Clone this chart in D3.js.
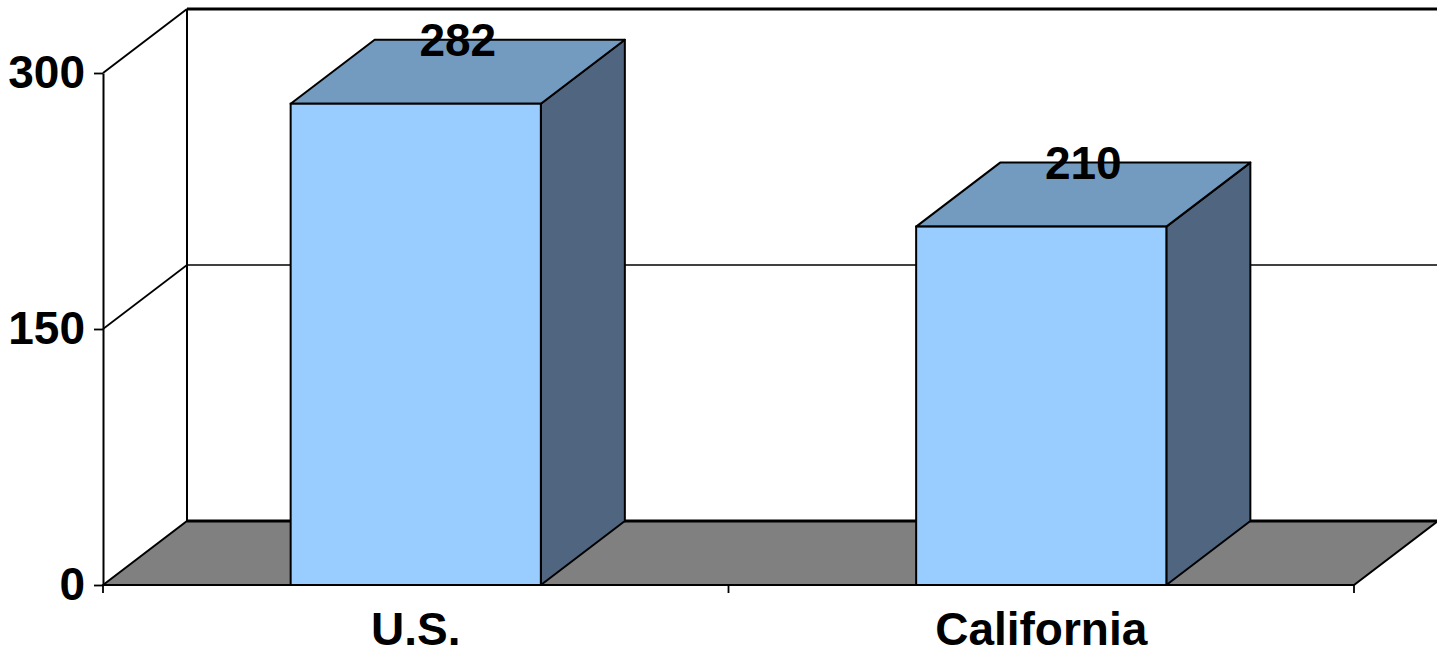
<!DOCTYPE html>
<html>
<head>
<meta charset="utf-8">
<script src="https://cdn.jsdelivr.net/npm/d3@7"></script>
<style>
  html, body { margin: 0; padding: 0; background: #ffffff; }
  svg { display: block; }
  text { font-family: "Liberation Sans", Arial, sans-serif; font-weight: bold; fill: #000; }
</style>
</head>
<body>
<svg id="chart" width="1437" height="655"></svg>
<script>
// Chart data
const categories = ["U.S.", "California"];
const values = [282, 210];
const yTicks = [0, 150, 300];

const W = 1437, H = 655;
const left = 103, right = 1354, floorY = 585, topY = 73;
// 3D depth offset (towards the back wall)
const DX = 84, DY = -64;

const svg = d3.select("#chart");

const y = d3.scaleLinear().domain([0, 300]).range([floorY, topY]);
const x = d3.scaleBand().domain(categories).range([left, right])
  .paddingInner(0.6).paddingOuter(0.3);

const line = (x1, y1, x2, y2, w) => svg.append("line")
  .attr("x1", x1).attr("y1", y1).attr("x2", x2).attr("y2", y2)
  .attr("stroke", "#000").attr("stroke-width", w);

// Back wall: left edge and top edge
line(left + DX, y(300) + DY, left + DX, y(0) + DY, 2);
line(left + DX, y(300) + DY, right + DX, y(300) + DY, 3);

// Gridlines: on the side wall (diagonal) and across the back wall
yTicks.filter(t => t > 0 && t < 300).forEach(t => {
  line(left, y(t), left + DX, y(t) + DY, 1.6);
  line(left + DX, y(t) + DY, right + DX, y(t) + DY, 1.6);
});
// top of the side wall
line(left, y(300), left + DX, y(300) + DY, 2);

// Floor
svg.append("polygon")
  .attr("points", [[left, y(0)], [left + DX, y(0) + DY], [right + DX, y(0) + DY], [right, y(0)]].join(" "))
  .attr("fill", "#808080").attr("stroke", "#000").attr("stroke-width", 2);
line(left + DX, y(0) + DY, right + DX, y(0) + DY, 3);

// Front value axis
const yAxis = svg.append("g")
  .attr("transform", `translate(${left},0)`)
  .call(d3.axisLeft(y).tickValues(yTicks).tickFormat(d3.format("d"))
    .tickSizeInner(9).tickSizeOuter(0).tickPadding(9));
yAxis.select(".domain").attr("stroke", "#000").attr("stroke-width", 2);
yAxis.selectAll(".tick line").attr("stroke", "#000").attr("stroke-width", 1.8);
yAxis.selectAll(".tick text")
  .attr("font-size", 46).attr("font-family", "Liberation Sans, Arial, sans-serif")
  .attr("font-weight", "bold").attr("fill", "#000");

// Category axis line with boundary ticks
line(left, y(0), right, y(0), 2);
const boundaries = [left, ...categories.slice(1).map(c => x(c) - x.step() * x.paddingInner() / 2), right];
boundaries.forEach(bx => line(bx, y(0), bx, y(0) + 8, 1.8));

// Bars
const bars = svg.selectAll("g.bar").data(categories.map((c, i) => ({ c, v: values[i] })))
  .enter().append("g").attr("class", "bar");

bars.each(function(d) {
  const g = d3.select(this);
  const x0 = x(d.c), x1 = x0 + x.bandwidth();
  const yt = y(d.v), yb = y(0);
  // right side face
  g.append("polygon")
    .attr("points", [[x1, yb], [x1 + DX, yb + DY], [x1 + DX, yt + DY], [x1, yt]].join(" "))
    .attr("fill", "#4F6580").attr("stroke", "#000").attr("stroke-width", 2)
    .attr("stroke-linejoin", "round");
  // top face
  g.append("polygon")
    .attr("points", [[x0, yt], [x0 + DX, yt + DY], [x1 + DX, yt + DY], [x1, yt]].join(" "))
    .attr("fill", "#739BC0").attr("stroke", "#000").attr("stroke-width", 2)
    .attr("stroke-linejoin", "round");
  // front face
  g.append("rect")
    .attr("x", x0).attr("y", yt).attr("width", x1 - x0).attr("height", yb - yt)
    .attr("fill", "#99CCFF").attr("stroke", "#000").attr("stroke-width", 2);
  // value label
  g.append("text")
    .attr("x", (x0 + x1) / 2 + DX / 2).attr("y", yt + DY)
    .attr("dy", "0.35em").attr("text-anchor", "middle")
    .attr("font-size", 46)
    .text(d.v);
});

// Category labels
svg.selectAll("text.cat").data(categories).enter().append("text")
  .attr("class", "cat")
  .attr("x", d => x(d) + x.bandwidth() / 2)
  .attr("y", 645)
  .attr("text-anchor", "middle")
  .attr("font-size", 46)
  .text(d => d);
</script>
</body>
</html>
